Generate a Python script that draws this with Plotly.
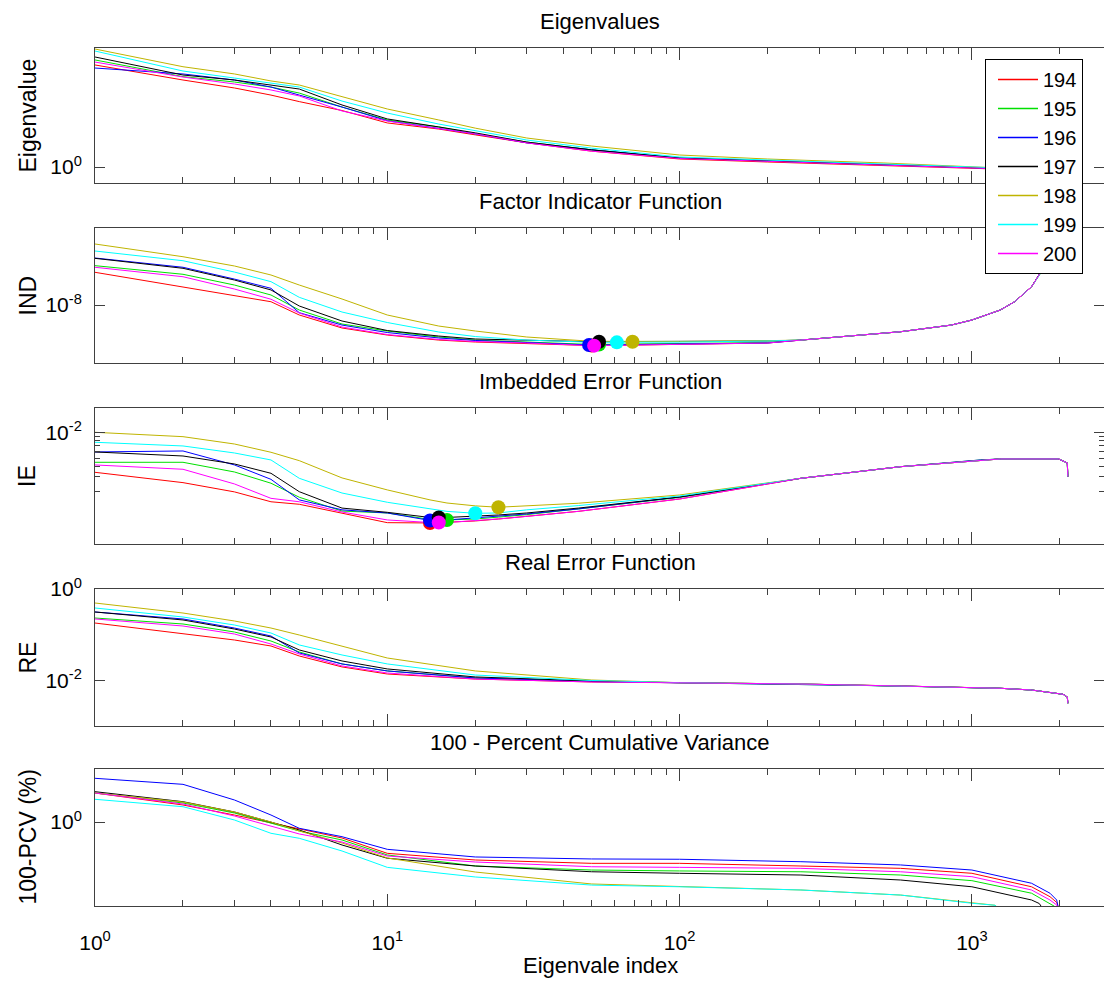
import plotly.graph_objects as go

# ---------------------------------------------------------------- data
series = ["194", "195", "196", "197", "198", "199", "200"]
colors = ["#ff0000", "#00e000", "#0000ff", "#000000", "#bfb400", "#00ffff", "#ff00ff"]

# Eigenvalues
eig_index = [1, 2, 3, 4, 5, 7, 10, 15, 20, 30, 50, 100, 200, 500, 1000, 1500, 2000]
eigenvalue = {
    "194": [5.70, 4.41, 3.85, 3.41, 3.05, 2.62, 2.12, 1.91, 1.73, 1.51, 1.31, 1.146, 1.089, 1.026, 0.983, 0.958, 0.934],
    "195": [6.21, 4.67, 4.26, 3.91, 3.53, 2.78, 2.23, 1.98, 1.76, 1.53, 1.34, 1.166, 1.108, 1.035, 0.983, 0.958, 0.942],
    "196": [5.41, 4.89, 4.41, 3.91, 3.41, 2.78, 2.20, 1.94, 1.76, 1.51, 1.34, 1.166, 1.108, 1.035, 0.983, 0.958, 0.942],
    "197": [6.53, 4.80, 4.41, 4.02, 3.78, 2.88, 2.27, 1.98, 1.79, 1.53, 1.34, 1.166, 1.108, 1.035, 0.983, 0.958, 0.942],
    "198": [7.48, 5.53, 4.89, 4.34, 4.05, 3.30, 2.69, 2.23, 1.94, 1.64, 1.43, 1.227, 1.146, 1.071, 1.000, 0.966, 0.950],
    "199": [7.23, 5.14, 4.56, 4.19, 3.91, 3.08, 2.51, 2.08, 1.85, 1.585, 1.38, 1.186, 1.127, 1.053, 0.992, 0.966, 0.950],
    "200": [5.99, 4.64, 4.12, 3.72, 3.36, 2.60, 2.19, 1.94, 1.76, 1.51, 1.31, 1.156, 1.098, 1.035, 0.983, 0.958, 0.934],
}

# Factor indicator function
ind_index = [1, 2, 3, 4, 5, 7, 10, 15, 20, 30, 50, 70, 100, 200,
             260, 570, 850, 1000, 1250, 1400, 1600, 1720, 1800, 1900, 2000]
ind_head = {
    "194": [3.37e-8, 1.97e-8, 1.45e-8, 1.13e-8, 6.90e-9, 4.26e-9, 3.28e-9, 2.72e-9, 2.53e-9, 2.39e-9, 2.22e-9, 2.26e-9, 2.31e-9, 2.44e-9],
    "195": [4.31e-8, 3.13e-8, 2.10e-8, 1.45e-8, 8.30e-9, 4.94e-9, 3.81e-9, 3.05e-9, 2.72e-9, 2.53e-9, 2.31e-9, 2.35e-9, 2.39e-9, 2.48e-9],
    "196": [5.73e-8, 4.06e-8, 2.62e-8, 1.86e-8, 7.51e-9, 4.75e-9, 3.60e-9, 2.94e-9, 2.68e-9, 2.48e-9, 2.26e-9, 2.31e-9, 2.35e-9, 2.44e-9],
    "197": [5.66e-8, 3.91e-8, 2.53e-8, 1.75e-8, 9.64e-9, 5.52e-9, 3.88e-9, 3.16e-9, 2.83e-9, 2.68e-9, 2.56e-9, 2.58e-9, 2.60e-9, 2.63e-9],
    "198": [9.64e-8, 6.01e-8, 4.26e-8, 3.05e-8, 2.10e-8, 1.25e-8, 6.90e-9, 4.58e-9, 3.81e-9, 3.05e-9, 2.60e-9, 2.56e-9, 2.58e-9, 2.66e-9],
    "199": [7.43e-8, 5.18e-8, 3.40e-8, 2.38e-8, 1.33e-8, 7.71e-9, 5.22e-9, 3.67e-9, 3.10e-9, 2.72e-9, 2.51e-9, 2.50e-9, 2.52e-9, 2.63e-9],
    "200": [4.06e-8, 2.86e-8, 1.81e-8, 1.24e-8, 7.43e-9, 4.42e-9, 3.34e-9, 2.78e-9, 2.58e-9, 2.44e-9, 2.21e-9, 2.25e-9, 2.31e-9, 2.44e-9],
}
ind_tail = [2.72e-9, 3.71e-9, 4.75e-9, 5.73e-9, 8.30e-9, 1.13e-8, 1.97e-8, 3.28e-8, 4.75e-8, 1.04e-7, 3.28e-7]
ind_min_index = {"194": 50, "195": 53, "196": 49, "197": 53, "198": 69, "199": 61, "200": 51}
ind_min_value = {"194": 2.22e-9, "195": 2.31e-9, "196": 2.26e-9, "197": 2.56e-9,
                 "198": 2.56e-9, "199": 2.50e-9, "200": 2.21e-9}

# Imbedded error function
ie_index = [1, 2, 3, 4, 5, 7, 10, 14, 16, 20, 24, 30, 45, 100,
            260, 570, 1070, 1250, 1980, 2050, 2120, 2130]
ie_head = {
    "194": [3.40e-3, 2.57e-3, 2.00e-3, 1.53e-3, 1.43e-3, 1.13e-3, 8.69e-4, 8.62e-4, 8.73e-4, 9.10e-4, 9.60e-4, 1.03e-3, 1.18e-3, 1.65e-3],
    "195": [4.46e-3, 4.46e-3, 3.43e-3, 2.53e-3, 1.73e-3, 1.19e-3, 1.13e-3, 9.47e-4, 9.35e-4, 9.60e-4, 1.01e-3, 1.08e-3, 1.26e-3, 1.72e-3],
    "196": [5.90e-3, 6.06e-3, 4.15e-3, 2.81e-3, 1.61e-3, 1.23e-3, 1.13e-3, 9.22e-4, 9.35e-4, 9.87e-4, 1.03e-3, 1.10e-3, 1.26e-3, 1.74e-3],
    "197": [5.90e-3, 5.29e-3, 4.26e-3, 3.31e-3, 2.01e-3, 1.29e-3, 1.15e-3, 1.00e-3, 1.00e-3, 1.03e-3, 1.07e-3, 1.13e-3, 1.29e-3, 1.74e-3],
    "198": [1.005e-2, 8.93e-3, 7.32e-3, 5.85e-3, 4.66e-3, 2.92e-3, 2.11e-3, 1.61e-3, 1.48e-3, 1.37e-3, 1.32e-3, 1.37e-3, 1.47e-3, 1.84e-3],
    "199": [7.67e-3, 6.94e-3, 5.74e-3, 4.75e-3, 2.89e-3, 1.94e-3, 1.51e-3, 1.26e-3, 1.18e-3, 1.12e-3, 1.13e-3, 1.23e-3, 1.38e-3, 1.79e-3],
    "200": [4.15e-3, 3.69e-3, 2.48e-3, 1.68e-3, 1.53e-3, 1.16e-3, 9.35e-4, 8.73e-4, 8.73e-4, 9.10e-4, 9.60e-4, 1.03e-3, 1.18e-3, 1.65e-3],
}
ie_tail = [2.89e-3, 3.96e-3, 4.75e-3, 4.88e-3, 4.88e-3, 4.62e-3, 4.38e-3, 3.02e-3]
ie_min_index = {"194": 14, "195": 16, "196": 14, "197": 15, "198": 24, "199": 20, "200": 15}
ie_min_value = {"194": 8.62e-4, "195": 9.35e-4, "196": 9.22e-4, "197": 1.00e-3,
                "198": 1.32e-3, "199": 1.12e-3, "200": 8.73e-4}

# Real error function
re_index = [1, 2, 3, 4, 5, 7, 10, 20, 50,
            100, 260, 570, 1000, 1250, 1600, 1850, 2050, 2120, 2130]
re_head = {
    "194": [0.180, 0.1035, 0.0766, 0.0566, 0.0342, 0.0197, 0.0138, 0.0107, 0.00923],
    "195": [0.232, 0.1715, 0.1146, 0.0728, 0.0418, 0.0229, 0.0161, 0.0113, 0.00946],
    "196": [0.314, 0.221, 0.140, 0.0937, 0.0398, 0.0229, 0.0161, 0.0113, 0.00946],
    "197": [0.314, 0.210, 0.133, 0.0891, 0.0463, 0.0266, 0.0178, 0.0119, 0.00970],
    "198": [0.494, 0.298, 0.1995, 0.140, 0.0985, 0.0566, 0.0309, 0.0161, 0.0102],
    "199": [0.384, 0.244, 0.163, 0.1089, 0.0596, 0.0360, 0.0229, 0.0131, 0.00995],
    "200": [0.221, 0.155, 0.1035, 0.0625, 0.0378, 0.0207, 0.0145, 0.0107, 0.00923],
}
re_tail = [0.00891, 0.00834, 0.00754, 0.00692, 0.00672, 0.00616, 0.00549, 0.00497, 0.00434, 0.00316]

# 100 - percent cumulative variance
pcv_index = {
    "194": [1, 2, 3, 4, 5, 7, 10, 20, 50, 100, 260, 570, 1000, 1600, 1850, 1950, 2000],
    "195": [1, 2, 3, 4, 5, 7, 10, 20, 50, 100, 260, 570, 1000, 1600, 1850, 1920, 1960],
    "196": [1, 2, 3, 4, 5, 7, 10, 20, 50, 100, 260, 570, 1000, 1600, 1850, 1950, 2000],
    "197": [1, 2, 3, 4, 5, 7, 10, 20, 50, 100, 260, 570, 1000, 1600, 1700, 1780],
    "198": [1, 2, 3, 4, 5, 7, 10, 20, 50, 100, 260, 570, 1000, 1200, 1280],
    "199": [1, 2, 3, 4, 5, 7, 10, 20, 50, 100, 260, 570, 1000, 1200, 1280],
    "200": [1, 2, 3, 4, 5, 7, 10, 20, 50, 100, 260, 570, 1000, 1600, 1850, 1950, 1990],
}
pcv_values = {
    "194": [1.95, 1.479, 1.175, 0.977, 0.851, 0.692, 0.486, 0.417, 0.386, 0.386, 0.363, 0.344, 0.307, 0.225, 0.179, 0.157, 0.126],
    "195": [1.95, 1.549, 1.230, 0.977, 0.813, 0.661, 0.468, 0.363, 0.331, 0.324, 0.318, 0.295, 0.259, 0.194, 0.154, 0.143, 0.120],
    "196": [2.735, 2.38, 1.66, 1.175, 0.865, 0.713, 0.533, 0.447, 0.427, 0.424, 0.401, 0.372, 0.331, 0.244, 0.194, 0.166, 0.1175],
    "197": [2.01, 1.596, 1.259, 1.007, 0.832, 0.589, 0.434, 0.363, 0.318, 0.307, 0.295, 0.263, 0.225, 0.166, 0.153, 0.126],
    "198": [1.95, 1.585, 1.259, 1.000, 0.813, 0.617, 0.437, 0.316, 0.240, 0.225, 0.209, 0.186, 0.154, 0.147, 0.126],
    "199": [1.687, 1.422, 1.047, 0.771, 0.687, 0.513, 0.352, 0.282, 0.234, 0.225, 0.209, 0.186, 0.154, 0.147, 0.126],
    "200": [1.95, 1.514, 1.148, 0.912, 0.759, 0.631, 0.457, 0.398, 0.357, 0.352, 0.344, 0.318, 0.284, 0.209, 0.166, 0.148, 0.126],
}

# tick labels
x_tickvals = [1, 10, 100, 1000]
x_ticktext = ["10<sup>0</sup>", "10<sup>1</sup>", "10<sup>2</sup>", "10<sup>3</sup>"]
x_minor_vals = [m * d for d in (1, 10, 100) for m in range(2, 10)] + [2000, 3000]

panel_titles = ["Eigenvalues", "Factor Indicator Function", "Imbedded Error Function",
                "Real Error Function", "100 - Percent Cumulative Variance"]
y_titles = ["Eigenvalue", "IND", "IE", "RE", "100-PCV (%)"]
y_tickvals = [[1], [1e-8], [1e-2], [1, 1e-2], [1]]
y_ticktext = [["10<sup>0</sup>"], ["10<sup>-8</sup>"], ["10<sup>-2</sup>"],
              ["10<sup>0</sup>", "10<sup>-2</sup>"], ["10<sup>0</sup>"]]
ie_minor_vals = [m * 1e-3 for m in range(2, 10)]
x_title = "Eigenvale index"

# ---------------------------------------------------------------- layout geometry
W, H = 1104, 981
LEFT = 95
DECADE_PX = 292.3
FONT = "Liberation Sans, Arial, Helvetica, sans-serif"
AX = "#404040"
panel_px = [(48, 183), (228, 363), (408, 544), (589, 726), (769, 906)]
y_ranges = [[-0.1185, 0.8815], [-8.935, -6.758], [-3.312, -1.712], [-2.998, 0.0], [-0.84, 0.53]]
x_range = [0, (W - LEFT) / DECADE_PX]


def py(px):
    return 1 - px / H


def px_x(px):
    return (px - LEFT) / (W - LEFT)


fig = go.Figure()


def add_lines(panel, xs_of, ys_of):
    ax = "" if panel == 0 else str(panel + 1)
    for name, col in zip(series, colors):
        fig.add_trace(go.Scatter(
            x=xs_of(name), y=ys_of(name), mode="lines", name=name,
            line=dict(color=col, width=1), showlegend=False, legendgroup=name,
            xaxis="x" + ax, yaxis="y" + ax, hoverinfo="skip"))


def add_minima(panel, idx, val):
    ax = str(panel + 1)
    for name, col in zip(series, colors):
        fig.add_trace(go.Scatter(
            x=[idx[name]], y=[val[name]], mode="markers", showlegend=False,
            marker=dict(color=col, size=14, line=dict(width=0)),
            xaxis="x" + ax, yaxis="y" + ax, hoverinfo="skip"))


add_lines(0, lambda n: eig_index, lambda n: eigenvalue[n])
add_lines(1, lambda n: ind_index, lambda n: ind_head[n] + ind_tail)
add_minima(1, ind_min_index, ind_min_value)
add_lines(2, lambda n: ie_index, lambda n: ie_head[n] + ie_tail)
add_minima(2, ie_min_index, ie_min_value)
add_lines(3, lambda n: re_index, lambda n: re_head[n] + re_tail)
add_lines(4, lambda n: pcv_index[n], lambda n: pcv_values[n])

# legend entries (one per series, slightly heavier sample line)
for name, col in zip(series, colors):
    fig.add_trace(go.Scatter(
        x=[None], y=[None], mode="lines", name=name, legendgroup=name,
        line=dict(color=col, width=1.6), showlegend=True, hoverinfo="skip"))

layout = dict(
    width=W, height=H,
    margin=dict(l=LEFT, r=0, t=0, b=0, autoexpand=False),
    paper_bgcolor="white", plot_bgcolor="white",
    font=dict(family=FONT, color="black"),
    showlegend=True,
    legend=dict(x=px_x(985), y=py(59), xanchor="left", yanchor="top",
                bgcolor="white", bordercolor="black", borderwidth=1,
                font=dict(size=20, color="black", family=FONT),
                itemwidth=40, indentation=7, tracegroupgap=0),
)

annotations = []
for i, (top, bot) in enumerate(panel_px):
    ax = "" if i == 0 else str(i + 1)
    last = i == len(panel_px) - 1
    layout["xaxis" + ax] = dict(
        type="log", range=x_range, domain=[0, 1], anchor="y" + ax,
        showline=True, linecolor=AX, linewidth=1, mirror="ticks",
        ticks="inside", ticklen=12, tickcolor=AX, tickwidth=1,
        tickmode="array", tickvals=x_tickvals, ticktext=x_ticktext,
        showticklabels=last, tickfont=dict(size=21, color="black"),
        ticklabelstandoff=18,
        minor=dict(ticks="inside", ticklen=6, tickcolor=AX, tickwidth=1,
                   tickmode="array", tickvals=x_minor_vals),
        showgrid=False, zeroline=False, automargin=False,
    )
    ycfg = dict(
        type="log", range=y_ranges[i], domain=[py(bot), py(top)], anchor="x" + ax,
        showline=True, linecolor=AX, linewidth=1, mirror="ticks",
        ticks="inside", ticklen=10, tickcolor=AX, tickwidth=1,
        tickmode="array", tickvals=y_tickvals[i], ticktext=y_ticktext[i],
        tickfont=dict(size=21, color="black"), ticklabelstandoff=8,
        showgrid=False, zeroline=False, automargin=False,
    )
    if i == 2:
        ycfg["minor"] = dict(ticks="inside", ticklen=5, tickcolor=AX, tickwidth=1,
                             tickmode="array", tickvals=ie_minor_vals)
    layout["yaxis" + ax] = ycfg

    annotations.append(dict(text=panel_titles[i], xref="paper", yref="paper",
                            x=px_x(600), y=py(top - 27), xanchor="center", yanchor="middle",
                            showarrow=False, font=dict(size=22, color="black")))
    annotations.append(dict(text=y_titles[i], xref="paper", yref="paper",
                            x=px_x(27), y=py((top + bot) / 2), xanchor="center", yanchor="middle",
                            textangle=-90, showarrow=False, font=dict(size=23, color="black")))

annotations.append(dict(text=x_title, xref="paper", yref="paper",
                        x=px_x(600), y=py(965), xanchor="center", yanchor="middle",
                        showarrow=False, font=dict(size=22, color="black")))
layout["annotations"] = annotations

fig.update_layout(**layout)
fig.write_html("out.html")
